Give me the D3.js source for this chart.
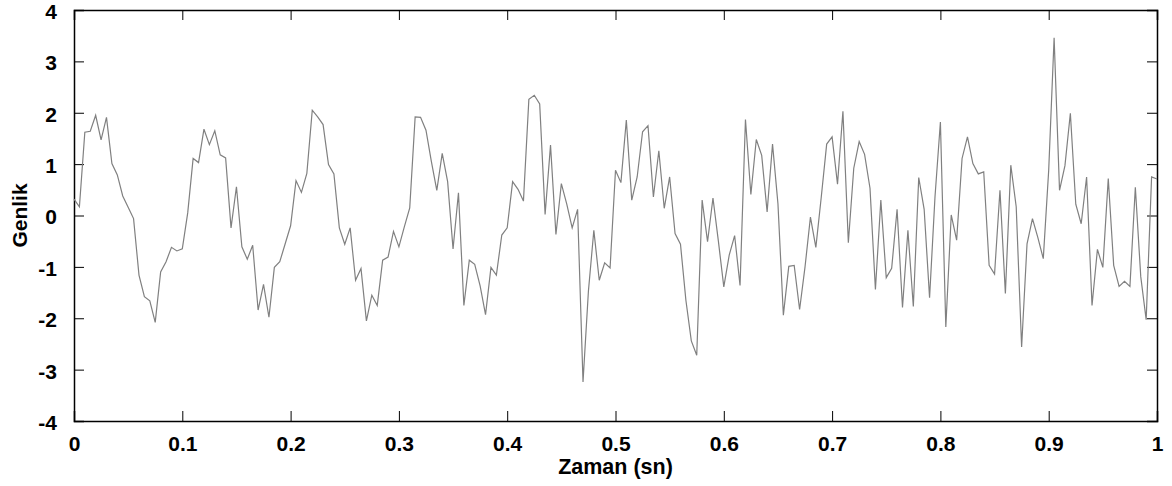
<!DOCTYPE html>
<html>
<head>
<meta charset="utf-8">
<script src="https://cdn.jsdelivr.net/npm/d3@7"></script>
<style>
  body { margin: 0; background: #fff; }
  text { font-family: Arial, "Liberation Sans", sans-serif; font-weight: bold; fill: #000; }
</style>
</head>
<body>
<div id="chart"></div>
<script>
// sampled signal, 0.005 s step (201 samples from 0 to 1 s)
var sampleStep = 0.005;
var amplitude = [
  0.32, 0.17, 1.62, 1.64, 1.95, 1.47, 1.91, 1.01, 0.79, 0.38, 0.16, -0.06, -1.16, -1.58, -1.66, -2.08, -1.10, -0.90, -0.62, -0.69, -0.65, 0.05, 1.11, 1.03, 1.68, 1.38,
  1.65, 1.18, 1.12, -0.24, 0.56, -0.61, -0.85, -0.58, -1.84, -1.34, -1.98, -1.01, -0.90, -0.55, -0.20, 0.68, 0.45, 0.82, 2.05, 1.92, 1.77, 0.99, 0.81, -0.24, -0.56, -0.24,
  -1.26, -1.03, -2.05, -1.55, -1.75, -0.87, -0.81, -0.31, -0.61, -0.22, 0.15, 1.92, 1.91, 1.66, 1.05, 0.49, 1.21, 0.66, -0.65, 0.44, -1.75, -0.87, -0.95, -1.37, -1.93, -1.01,
  -1.16, -0.38, -0.24, 0.66, 0.51, 0.28, 2.26, 2.34, 2.17, 0.02, 1.37, -0.37, 0.62, 0.22, -0.24, 0.12, -3.24, -1.47, -0.29, -1.26, -0.92, -1.02, 0.88, 0.64, 1.86,
  0.30, 0.75, 1.63, 1.75, 0.36, 1.26, 0.14, 0.75, -0.35, -0.56, -1.65, -2.44, -2.72, 0.30, -0.51, 0.34, -0.50, -1.39, -0.77, -0.39, -1.36, 1.87, 0.41, 1.48, 1.17, 0.07,
  1.39, 0.23, -1.94, -0.99, -0.97, -1.83, -1.00, -0.03, -0.62, 0.36, 1.39, 1.53, 0.61, 2.03, -0.53, 0.92, 1.44, 1.19, 0.53, -1.44, 0.30, -1.21, -1.03, 0.12, -1.79, -0.29,
  -1.77, 0.74, 0.12, -1.60, 0.36, 1.82, -2.17, 0.01, -0.48, 1.11, 1.53, 1.01, 0.81, 0.85, -0.97, -1.14, 0.49, -1.52, 0.98, 0.17, -2.56, -0.55, -0.06, -0.43, -0.84, 0.88,
  3.46, 0.49, 0.97, 1.99, 0.22, -0.16, 0.75, -1.75, -0.66, -1.01, 0.72, -0.97, -1.38, -1.28, -1.38, 0.55, -1.19, -2.03, 0.75, 0.71
];
var xTicks = [0, 0.1, 0.2, 0.3, 0.4, 0.5, 0.6, 0.7, 0.8, 0.9, 1];
var yTicks = [-4, -3, -2, -1, 0, 1, 2, 3, 4];
var xTitle = "Zaman (sn)";
var yTitle = "Genlik";

var W = 1172, H = 486;
var margin = {top: 10, right: 15, bottom: 65, left: 74};
var iw = W - margin.left - margin.right;
var ih = H - margin.top - margin.bottom;

var svg = d3.select("#chart").append("svg")
    .attr("width", W)
    .attr("height", H);

var g = svg.append("g").attr("transform", "translate(" + margin.left + "," + margin.top + ")");

var x = d3.scaleLinear().domain([0, 1]).range([0, iw]);
var y = d3.scaleLinear().domain([-4, 4]).range([ih, 0]);

var tickLen = 10;
// plain hyphen minus like the original, not the unicode minus
var fmt = function(d){ return String(d); };

// ticks on all four sides, pointing inward
var xb = g.append("g").attr("transform", "translate(0," + ih + ")")
    .call(d3.axisBottom(x).tickValues(xTicks).tickSize(-tickLen).tickPadding(15).tickFormat(fmt));
var xt = g.append("g")
    .call(d3.axisTop(x).tickValues(xTicks).tickSize(-tickLen).tickFormat(""));
var yl = g.append("g")
    .call(d3.axisLeft(y).tickValues(yTicks).tickSize(-tickLen).tickPadding(17).tickFormat(fmt));
var yr = g.append("g").attr("transform", "translate(" + iw + ",0)")
    .call(d3.axisRight(y).tickValues(yTicks).tickSize(-tickLen).tickFormat(""));

[xb, xt, yl, yr].forEach(function(a){
    a.select(".domain").attr("stroke", "#000").attr("stroke-width", 1.5);
    a.selectAll(".tick line").attr("stroke", "#000").attr("stroke-width", 1);
    a.selectAll("text").style("font-size", "21px").attr("fill", "#000");
});
yl.selectAll(".tick text").attr("dy", "0.4em");

// signal
var line = d3.line()
    .x(function(d, i){ return x(i * sampleStep); })
    .y(function(d){ return y(d); });

g.append("path")
    .datum(amplitude)
    .attr("fill", "none")
    .attr("stroke", "#808080")
    .attr("stroke-width", 1.2)
    .attr("d", line);

// titles
svg.append("text")
    .attr("x", margin.left + iw / 2)
    .attr("y", 474)
    .attr("text-anchor", "middle")
    .style("font-size", "21.5px")
    .text(xTitle);

svg.append("text")
    .attr("transform", "translate(27," + (margin.top + ih / 2) + ") rotate(-90)")
    .attr("text-anchor", "middle")
    .style("font-size", "21px")
    .text(yTitle);
</script>
</body>
</html>
